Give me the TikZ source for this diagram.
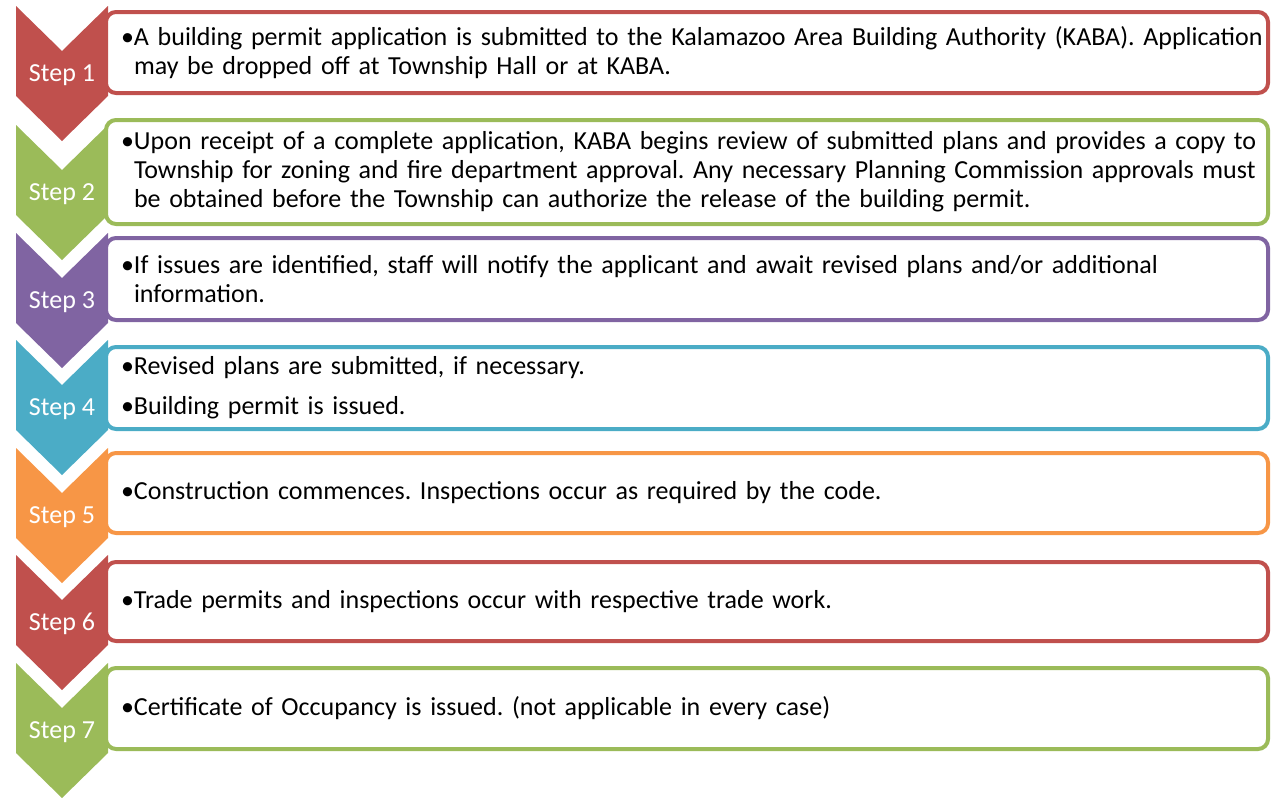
\documentclass[tikz,border=0pt]{standalone}
\usepackage{fontspec}
\setmainfont{Carlito}
\definecolor{stepred}{HTML}{C0504D}
\definecolor{stepgreen}{HTML}{9BBB59}
\definecolor{steppurple}{HTML}{8064A2}
\definecolor{stepteal}{HTML}{4BACC6}
\definecolor{steporange}{HTML}{F79646}
\newcommand{\stepchevron}[2]{\fill[#1] (16,#2) -- (62,#2+45) -- (108,#2) -- (108,#2+90) -- (62,#2+135) -- (16,#2+90) -- cycle;}
\newcommand{\stepitem}[1]{\noindent\makebox[13pt][l]{\textbullet}\parbox[t]{1140pt}{\raggedright\frenchspacing #1}}

\begin{document}
\begin{tikzpicture}[x=1pt,y=-1pt,
    steplabel/.style={text=white,font=\fontsize{26}{30}\selectfont},
    stepbox/.style={draw=#1,line width=4pt,rounded corners=10pt,fill=white,
      minimum width=1162pt,text width=1132pt,inner xsep=15pt,align=left,
      font=\fontsize{26}{29}\selectfont}]
    \useasboundingbox (0,0) rectangle (1272,798);

    \stepchevron{stepred}{6}
    \stepchevron{stepgreen}{125}
    \stepchevron{steppurple}{233}
    \stepchevron{stepteal}{340}
    \stepchevron{steporange}{448}
    \stepchevron{stepred}{555}
    \stepchevron{stepgreen}{663}

    \node[steplabel] (s1) at (62,75) {Step 1};
    \node[steplabel] (s2) at (62,194) {Step 2};
    \node[steplabel] (s3) at (62,302) {Step 3};
    \node[steplabel] (s4) at (62,409) {Step 4};
    \node[steplabel] (s5) at (62,517) {Step 5};
    \node[steplabel] (s6) at (62,624) {Step 6};
    \node[steplabel] (s7) at (62,732) {Step 7};

    \node[stepbox=stepred,minimum height=81pt] (t1) at (687,52.5)
      {\stepitem{A building permit application is submitted to the Kalamazoo Area Building Authority (KABA). Application\\
       may be dropped off at Township Hall or at KABA.}};
    \node[stepbox=stepgreen,minimum height=104pt] (t2) at (687,172)
      {\stepitem{Upon receipt of a complete application, KABA begins review of submitted plans and provides a copy to\\
       Township for zoning and fire department approval. Any necessary Planning Commission approvals must\\
       be obtained before the Township can authorize the release of the building permit.}};
    \node[stepbox=steppurple,minimum height=82pt] (t3) at (687,279)
      {\stepitem{If issues are identified, staff will notify the applicant and await revised plans and/or additional\\
       information.}};
    \node[stepbox=stepteal,minimum height=82pt] (t4) at (687,388)
      {\stepitem{Revised plans are submitted, if necessary.}\par\vspace{11pt}
       \stepitem{Building permit is issued.}};
    \node[stepbox=steporange,minimum height=80pt] (t5) at (687,493)
      {\stepitem{Construction commences. Inspections occur as required by the code.}};
    \node[stepbox=stepred,minimum height=79pt] (t6) at (687,601.5)
      {\stepitem{Trade permits and inspections occur with respective trade work.}};
    \node[stepbox=stepgreen,minimum height=81pt] (t7) at (687,708.5)
      {\stepitem{Certificate of Occupancy is issued. (not applicable in every case)}};
\end{tikzpicture}
\end{document}
